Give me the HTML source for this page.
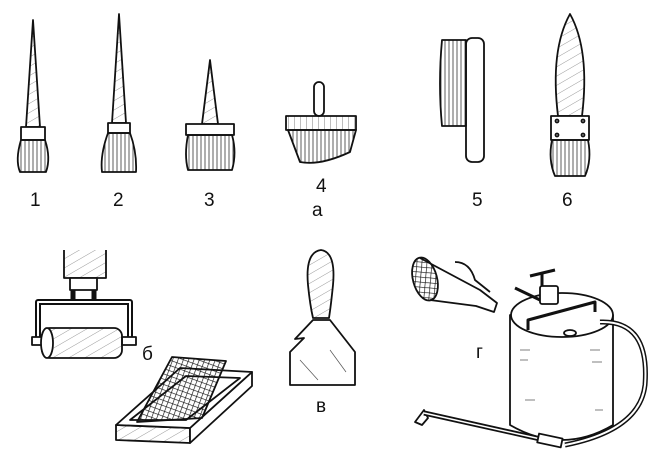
<!DOCTYPE html>
<html><head><meta charset="utf-8"><style>
html,body{margin:0;padding:0;background:#fff;}
svg{display:block;}
text{font-family:"Liberation Sans",sans-serif;font-size:19px;fill:#111;}
</style></head><body>
<svg width="657" height="462" viewBox="0 0 657 462" xmlns="http://www.w3.org/2000/svg">
<defs>
<pattern id="h" width="6" height="6" patternUnits="userSpaceOnUse"><path d="M0 0V6" stroke="#444" stroke-width="0.7"/></pattern>
<pattern id="hv" width="4" height="6" patternUnits="userSpaceOnUse"><path d="M1 0V6" stroke="#333" stroke-width="0.8"/></pattern>
<pattern id="g" width="5" height="5" patternUnits="userSpaceOnUse" patternTransform="rotate(20)"><path d="M0 0H5M0 0V5" stroke="#111" stroke-width="1.3"/></pattern>
<pattern id="d" width="8" height="8" patternUnits="userSpaceOnUse" patternTransform="rotate(60)"><path d="M0 0V8" stroke="#555" stroke-width="0.6"/></pattern>
</defs>
<g stroke="#111" stroke-width="1.8" fill="#fff" stroke-linejoin="round">
<!-- 1 -->
<path d="M33 20 L40 127 L26 127 Z" fill="url(#d)"/>
<rect x="21" y="127" width="24" height="13"/>
<path d="M21 140 Q15 160 20 172 L46 172 Q51 158 45 140 Z" fill="url(#hv)"/>
<!-- 2 -->
<path d="M119 14 L126 123 L112 123 Z" fill="url(#d)"/>
<rect x="108" y="123" width="22" height="10"/>
<path d="M108 133 Q100 155 102 172 L136 172 Q137 152 130 133 Z" fill="url(#hv)"/>
<!-- 3 -->
<path d="M210 60 L218 124 L202 124 Z" fill="url(#d)"/>
<rect x="186" y="124" width="48" height="11"/>
<path d="M188 135 Q184 155 188 170 L232 170 Q237 153 232 135 Z" fill="url(#hv)"/>
<!-- 4 -->
<rect x="314" y="82" width="10" height="34" rx="5"/>
<path d="M286 116 L356 116 L356 130 L286 130 Z" fill="url(#h)"/>
<path d="M288 130 L356 130 L350 152 Q320 166 300 162 Z" fill="url(#hv)"/>
<!-- 5 -->
<rect x="466" y="38" width="18" height="124" rx="6"/>
<path d="M442 40 L466 40 L466 126 L442 126 Q438 84 442 40 Z" fill="url(#hv)"/>
<!-- 6 -->
<path d="M570 14 Q590 50 582 116 L558 116 Q550 50 570 14 Z" fill="url(#d)"/>
<rect x="551" y="116" width="38" height="24"/>
<circle cx="557" cy="121" r="1.5"/><circle cx="583" cy="121" r="1.5"/><circle cx="557" cy="135" r="1.5"/><circle cx="583" cy="135" r="1.5"/>
<path d="M552 140 L588 140 Q592 160 585 176 L555 176 Q548 160 552 140 Z" fill="url(#hv)"/>
<!-- roller -->
<path d="M64 250 V278 H106 V250" fill="url(#d)"/>
<rect x="70" y="278" width="27" height="12"/>
<path d="M73 290 V300 M94 290 V300" fill="none" stroke-width="5"/>
<path d="M38 342 V302 H130 V342" fill="none" stroke-width="6"/>
<path d="M38 342 V302 H130 V342" fill="none" stroke="#fff" stroke-width="2"/>
<rect x="32" y="337" width="14" height="8"/><rect x="122" y="337" width="14" height="8"/>
<rect x="42" y="328" width="80" height="30" rx="8" fill="url(#d)"/>
<ellipse cx="47" cy="343" rx="6" ry="15"/>
<!-- tray -->
<path d="M116 425 L190 428 L190 443 L116 440 Z" fill="url(#d)"/>
<path d="M190 428 L252 372 L252 386 L190 443 Z"/>
<path d="M116 425 L180 368 L252 372 L190 428 Z"/>
<path d="M130 420 L186 376 L240 378 L186 420 Z"/>
<path d="M137 422 L172 357 L226 361 L202 418 Z" fill="url(#g)"/>
<!-- spatula -->
<path d="M321 250 Q336 252 333 285 Q331 305 329 318 L313 318 Q310 305 308 285 Q305 252 321 250 Z" fill="url(#d)"/>
<path d="M313 320 L330 320 L355 352 L355 385 L290 385 L290 352 L304 338 L295 339 L313 320 Z"/>
<path d="M300 360 L318 380 M330 350 L346 372" stroke="#555" stroke-width="0.7"/>
<!-- funnel -->
<path d="M420 258 L480 290 L497 303 L494 312 L476 306 L430 300" />
<ellipse cx="425" cy="279" rx="12" ry="22" transform="rotate(-15 425 279)" fill="url(#g)"/>
<path d="M455 262 Q470 262 475 280 L490 292" fill="none"/>
<!-- tank -->
<path d="M510 315 L510 425 Q562 455 613 425 L613 315 Z"/>
<ellipse cx="562" cy="315" rx="51" ry="22"/>
<path d="M528 330 V320 L595 302 V312" fill="none" stroke-width="3"/>
<rect x="540" y="286" width="18" height="18" rx="2"/>
<path d="M530 276 L555 270 M542 273 V286" fill="none" stroke-width="3"/>
<path d="M515 288 L540 300" stroke-width="3"/>
<ellipse cx="570" cy="333" rx="6" ry="3"/>
<path d="M600 322 Q650 320 645 385 Q640 430 565 445" fill="none" stroke-width="5"/>
<path d="M600 322 Q650 320 645 385 Q640 430 565 445" fill="none" stroke="#fff" stroke-width="2"/>
<path d="M415 422 L424 410 L428 418 L422 425 Z"/>
<path d="M424 413 L545 440" stroke-width="5"/>
<path d="M424 413 L545 440" stroke="#fff" stroke-width="1.5"/>
<rect x="538" y="436" width="24" height="9" transform="rotate(12 550 440)"/>
<path d="M520 350 L530 350 M520 360 L528 360 M590 350 L600 350 M592 362 L602 362 M525 400 L535 400 M595 410 L603 410" stroke="#555" stroke-width="0.7"/>
</g>
<text x="30" y="206">1</text>
<text x="113" y="206">2</text>
<text x="204" y="206">3</text>
<text x="316" y="192">4</text>
<text x="312" y="216">а</text>
<text x="472" y="206">5</text>
<text x="562" y="206">6</text>
<text x="142" y="360">б</text>
<text x="316" y="412">в</text>
<text x="476" y="358">г</text>
</svg>
</body></html>
